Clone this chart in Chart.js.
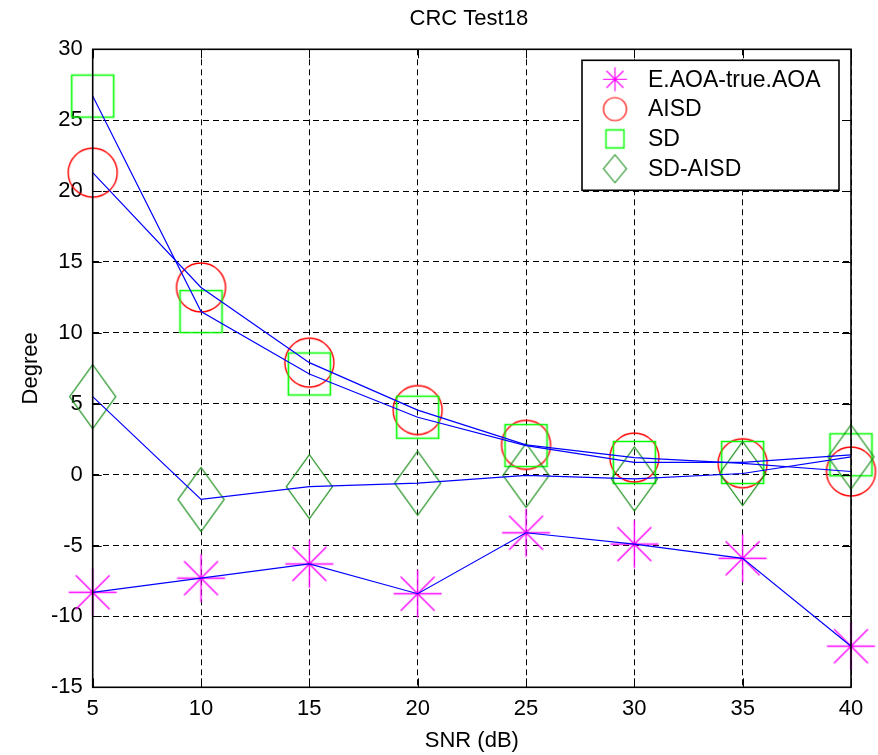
<!DOCTYPE html>
<html lang="en">
<head>
<meta charset="UTF-8">
<title>CRC Test18</title>
<script src="https://cdn.jsdelivr.net/npm/chart.js"></script>
<style>
    html, body { margin: 0; padding: 0; background: #fff; }
    #crcChart { display: block; }
</style>
</head>
<body>
<canvas id="crcChart" width="878" height="755"></canvas>
<script>
    // values
    const snr = [5, 10, 15, 20, 25, 30, 35, 40];
    const aoaError = [-8.3, -7.3, -6.3, -8.4, -4.1, -4.9, -5.9, -12.1];
    const aisd = [21.3, 13.2, 7.9, 4.55, 2.1, 1.2, 0.8, 0.22];
    const sd = [26.7, 11.5, 7.1, 4.05, 2.05, 0.86, 0.86, 1.4];
    const sdAisd = [5.5, -1.75, -0.85, -0.6, -0.05, -0.3, 0.08, 1.25];
    const seriesNames = ['E.AOA-true.AOA', 'AISD', 'SD', 'SD-AISD'];
    const xTicks = [5, 10, 15, 20, 25, 30, 35, 40];
    const yTicks = [-15, -10, -5, 0, 5, 10, 15, 20, 25, 30];
    const chartTitle = 'CRC Test18';

    const FONT = "'Liberation Sans', Arial, sans-serif";

    // MATLAB style markers drawn into small canvases
    function makeMarker(shape, color, hw, hh, lw) {
        const c = document.createElement('canvas');
        c.width = Math.ceil(hw * 2 + 4) | 1;
        c.height = Math.ceil(hh * 2 + 4) | 1;
        const g = c.getContext('2d');
        const cx = c.width / 2, cy = c.height / 2;
        g.strokeStyle = color;
        g.lineWidth = lw;
        g.beginPath();
        if (shape === 'circle') {
            g.arc(cx, cy, hw, 0, Math.PI * 2);
        } else if (shape === 'square') {
            g.rect(cx - hw, cy - hh, hw * 2, hh * 2);
        } else if (shape === 'diamond') {
            g.moveTo(cx, cy - hh);
            g.lineTo(cx + hw, cy);
            g.lineTo(cx, cy + hh);
            g.lineTo(cx - hw, cy);
            g.closePath();
        } else if (shape === 'star') {
            for (let k = 0; k < 8; k++) {
                const a = k * Math.PI / 4;
                g.moveTo(cx, cy);
                g.lineTo(cx + Math.cos(a) * hw, cy + Math.sin(a) * hh);
            }
        }
        g.stroke();
        if (shape === 'star') {
            g.fillStyle = color;
            g.beginPath();
            g.arc(cx, cy, lw * 1.3, 0, Math.PI * 2);
            g.fill();
        }
        return c;
    }

    const markers = [
        makeMarker('star', '#ff00ff', 24, 24, 1.4),
        makeMarker('circle', '#ff0000', 24.5, 24.5, 1.4),
        makeMarker('square', '#00ff00', 21, 21, 1.6),
        makeMarker('diamond', '#108a10', 23, 32, 1.2)
    ];
    const legendMarkers = [
        makeMarker('star', '#ff00ff', 12, 12, 1.2),
        makeMarker('circle', '#ff0000', 11.5, 11.5, 1.2),
        makeMarker('square', '#00ff00', 9, 9, 1.4),
        makeMarker('diamond', '#108a10', 11.5, 14, 1.1)
    ];

    const allSeries = [aoaError, aisd, sd, sdAisd];
    const toPoints = arr => snr.map((x, i) => ({ x: x, y: arr[i] }));

    const datasets = [];
    allSeries.forEach((arr, i) => {
        // blue connecting line, on top
        datasets.push({
            label: seriesNames[i] + ' line',
            data: toPoints(arr),
            borderColor: '#0000ff',
            borderWidth: 1.2,
            pointRadius: 0,
            fill: false,
            tension: 0,
            order: 0,
            clip: false
        });
        datasets.push({
            label: seriesNames[i],
            data: toPoints(arr),
            showLine: false,
            pointStyle: markers[i],
            pointRadius: 3,
            pointHoverRadius: 3,
            order: 4 - i,
            clip: false
        });
    });

    const frameAndLegend = {
        id: 'frameAndLegend',
        afterDatasetsDraw(chart) {
            const { ctx, chartArea: a, scales } = chart;
            ctx.save();
            // inward tick marks
            ctx.strokeStyle = '#000';
            ctx.lineWidth = 1;
            ctx.beginPath();
            xTicks.forEach(v => {
                const px = Math.round(scales.x.getPixelForValue(v)) + 0.5;
                ctx.moveTo(px, a.top); ctx.lineTo(px, a.top + 9);
                ctx.moveTo(px, a.bottom); ctx.lineTo(px, a.bottom - 9);
            });
            yTicks.forEach(v => {
                const py = Math.round(scales.y.getPixelForValue(v)) + 0.5;
                ctx.moveTo(a.left, py); ctx.lineTo(a.left + 9, py);
                ctx.moveTo(a.right, py); ctx.lineTo(a.right - 9, py);
            });
            ctx.stroke();
            // axes box
            ctx.lineWidth = 1.6;
            ctx.strokeRect(a.left, a.top, a.right - a.left, a.bottom - a.top);

            // title centred over the axes, like MATLAB
            ctx.fillStyle = '#000';
            ctx.font = '22px ' + FONT;
            ctx.textAlign = 'center';
            ctx.textBaseline = 'middle';
            ctx.fillText(chartTitle, (a.left + a.right) / 2 - 3, a.top - 30);

            // legend box in the upper right corner
            const lx = a.right - 269, ly = a.top + 11, lw = 257, lh = 130;
            ctx.fillStyle = '#fff';
            ctx.fillRect(lx, ly, lw, lh);
            ctx.lineWidth = 1.6;
            ctx.strokeRect(lx, ly, lw, lh);
            ctx.font = '23px ' + FONT;
            ctx.fillStyle = '#000';
            ctx.textAlign = 'left';
            seriesNames.forEach((name, i) => {
                const cy = ly + 19 + i * 29.8;
                const m = legendMarkers[i];
                ctx.drawImage(m, lx + 33 - m.width / 2, cy - m.height / 2);
                ctx.fillText(name, lx + 66, cy + 1);
            });
            ctx.restore();
        }
    };

    const ctx = document.getElementById('crcChart').getContext('2d');
    const crcChart = new Chart(ctx, {
        type: 'line',
        data: { datasets: datasets },
        options: {
            responsive: false,
            animation: false,
            events: [],
            layout: { padding: { left: 0, right: 27, top: 49.3, bottom: 0 } },
            plugins: {
                legend: { display: false },
                tooltip: { enabled: false },
                title: { display: false }
            },
            scales: {
                x: {
                    type: 'linear',
                    min: 5,
                    max: 40,
                    afterFit(scale) { scale.height = 67.7; },
                    afterBuildTicks(scale) { scale.ticks = xTicks.map(v => ({ value: v })); },
                    ticks: {
                        color: '#000',
                        padding: 8.5,
                        maxRotation: 0,
                        font: { family: FONT, size: 22 }
                    },
                    grid: { color: '#000', lineWidth: 1, drawTicks: false },
                    border: { display: false, dash: [6, 4] },
                    title: {
                        display: true,
                        text: 'SNR (dB)',
                        color: '#000',
                        font: { family: FONT, size: 22 },
                        padding: { top: 0, bottom: 1.3 }
                    }
                },
                y: {
                    min: -15,
                    max: 30,
                    afterFit(scale) { scale.width = 92.7; },
                    afterBuildTicks(scale) { scale.ticks = yTicks.map(v => ({ value: v })); },
                    ticks: {
                        color: '#000',
                        padding: 10,
                        font: { family: FONT, size: 22 }
                    },
                    grid: { color: '#000', lineWidth: 1, drawTicks: false },
                    border: { display: false, dash: [6, 4] },
                    title: {
                        display: true,
                        text: 'Degree',
                        color: '#000',
                        font: { family: FONT, size: 22 },
                        padding: { top: 17.8, bottom: 0 }
                    }
                }
            }
        },
        plugins: [frameAndLegend]
    });
</script>
</body>
</html>
